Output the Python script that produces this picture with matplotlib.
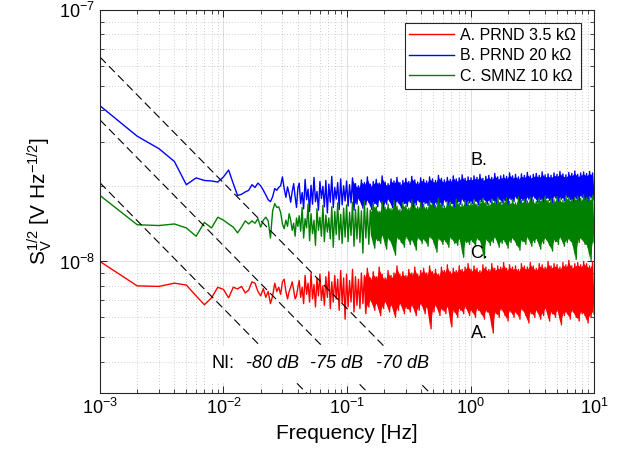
import numpy as np
import matplotlib
matplotlib.use('Agg')
import matplotlib.pyplot as plt
from matplotlib.patches import Rectangle

# ---------------- data (values in nV/sqrt(Hz)) ----------------
# low-frequency bins, f = 1 mHz ... 40 mHz in 1 mHz steps
red_low = [10.0, 8.0, 7.96, 8.2, 8.06, 7.3, 6.73, 7.17, 7.9, 7.74,
           7.17, 7.9, 7.78, 7.96, 7.5, 7.7, 8.3, 8.2, 7.6, 7.3,
           7.8, 7.2, 7.6, 6.8, 7.3, 8.2, 7.6, 7.9, 7.4, 8.3,
           8.5, 7.6, 7.1, 7.6, 7.9, 8.3, 7.7, 7.1, 7.3, 7.9]
blue_low = [41.6, 31.5, 28.1, 25.0, 20.2, 21.5, 21.0, 20.9, 20.7, 21.7,
            23.1, 20.4, 18.3, 18.5, 18.9, 19.2, 20.2, 19.7, 20.5, 20.0,
            19.2, 18.4, 17.6, 17.3, 18.1, 19.5, 19.2, 19.7, 20.0, 21.7,
            19.5, 18.0, 19.8, 18.6, 17.2, 19.0, 20.4, 18.1, 16.4, 19.6]
green_low = [18.3, 14.0, 13.9, 14.1, 13.6, 12.6, 14.3, 13.6, 15.0, 14.6,
             14.1, 13.7, 13.0, 13.7, 14.5, 14.1, 14.5, 14.2, 14.8, 13.7,
             14.6, 15.0, 14.5, 12.4, 15.9, 17.0, 16.4, 16.5, 15.7, 14.1,
             13.5, 14.6, 13.8, 15.5, 14.6, 13.3, 14.2, 12.6, 14.9, 13.8]

# dense part 41 mHz ... 10 Hz : upper and lower excursions of the noise band
blue_hi = [20.5, 18.8, 21.2, 19.4, 20.1, 21.6, 19.0, 20.8, 19.9, 21.0, 20.3, 21.8, 19.7, 20.6, 21.3, 20.0,
           20.9, 20.2, 21.5, 20.4, 20.0, 21.1, 20.6, 21.7, 20.3, 20.8, 21.2, 20.5, 21.9, 20.7, 20.4, 21.3,
           20.9, 21.6, 20.6, 21.0, 21.4, 20.8, 21.8, 21.1, 20.7, 21.5, 21.2, 20.9, 21.7, 21.3, 21.0, 22.0,
           21.4, 21.1, 21.6, 21.2, 21.9, 21.3, 21.5, 22.1, 21.4, 21.7,
           21.5, 21.9, 21.6, 22.2, 21.4, 21.8, 22.0, 21.6, 22.4, 21.7, 21.9, 22.1, 21.8, 22.5, 21.9, 22.2,
           21.7, 22.3, 22.0, 22.6, 21.9, 22.2, 22.4, 22.0, 22.7, 22.1, 22.3, 22.0, 22.5, 22.2, 22.8, 22.3,
           22.1, 22.6, 22.4, 22.9, 22.2, 22.5, 22.7, 22.4, 22.8, 22.5]
blue_lo = [17.0, 16.2, 17.6, 15.8, 16.9, 17.3, 16.0, 17.8, 16.5, 15.6, 17.2, 16.4, 17.7, 16.1, 16.8, 17.4,
           16.6, 17.1, 16.0, 16.9, 17.5, 16.3, 16.8, 17.2, 16.1, 17.0, 16.5, 17.3, 16.2, 16.9, 17.4, 16.4,
           16.7, 17.1, 16.3, 17.0, 16.6, 17.2, 16.4, 16.8, 17.3, 16.5, 17.0, 16.7, 17.2, 16.4, 16.9, 17.1,
           16.6, 17.3, 16.8, 17.0, 16.5, 17.2, 16.9, 17.4, 16.7, 17.1,
           17.0, 17.4, 16.8, 17.3, 17.6, 16.9, 17.2, 17.5, 17.0, 17.7, 17.1, 17.4, 16.9, 17.6, 17.3, 17.8,
           17.1, 17.5, 17.2, 17.7, 17.4, 17.9, 17.2, 17.6, 17.3, 17.8, 17.5, 17.2, 17.9, 17.4, 17.7, 17.5,
           18.0, 17.6, 17.3, 17.8, 17.5, 18.0, 17.7, 17.4, 17.9, 17.6]
green_hi = [15.2, 16.4, 14.8, 16.9, 15.5, 14.6, 16.2, 15.0, 16.7, 15.3, 14.9, 16.5, 15.8, 17.1, 15.4, 16.3,
            16.8, 15.7, 17.2, 16.1, 16.6, 15.9, 17.4, 16.3, 16.0, 17.0, 16.5, 15.8, 17.3, 16.4, 16.9, 16.2,
            17.5, 16.6, 16.1, 17.1, 16.7, 16.3, 17.6, 16.8, 16.5, 17.2, 16.9, 16.4, 17.4, 17.0, 16.7, 17.8,
            16.9, 16.6, 17.3, 17.1, 16.8, 17.7, 17.0, 16.9, 17.5, 17.2,
            17.1, 17.6, 16.9, 17.4, 17.8, 17.2, 17.0, 17.7, 17.3, 18.0, 17.2, 17.5, 17.9, 17.3, 17.6, 17.1,
            18.1, 17.5, 17.7, 17.4, 18.0, 17.6, 17.3, 17.9, 17.7, 18.2, 17.5, 17.8, 17.6, 18.1, 17.8, 17.5,
            18.3, 17.9, 17.7, 18.0, 18.2, 17.8, 18.4, 18.0, 17.9, 18.3]
green_lo = [13.2, 12.4, 13.6, 12.1, 12.9, 11.6, 13.3, 12.6, 12.0, 13.1, 12.3, 11.4, 12.8, 12.2, 11.8, 12.5,
            12.0, 12.7, 11.5, 12.3, 11.9, 10.8, 12.4, 11.7, 12.6, 11.3, 12.1, 11.8, 12.5, 11.2, 12.2, 11.6,
            10.6, 12.3, 11.9, 11.4, 12.4, 11.7, 12.0, 11.1, 12.3, 11.8, 12.1, 11.5, 12.4, 11.9, 10.9, 12.2,
            11.7, 12.0, 11.4, 12.3, 11.8, 11.6, 12.1, 10.4, 11.9, 11.7,
            12.0, 11.5, 12.2, 11.8, 10.3, 12.1, 11.6, 11.9, 12.3, 11.4, 11.8, 12.0, 11.3, 11.9, 12.2, 11.6,
            11.1, 12.0, 11.7, 12.3, 11.5, 11.9, 12.1, 11.2, 11.8, 12.2, 11.6, 11.0, 12.0, 11.7, 12.3, 11.5,
            11.9, 12.1, 11.6, 10.2, 11.9, 12.2, 11.7, 11.4, 10.1, 11.9]
red_hi = [8.4, 7.9, 8.8, 8.2, 9.0, 8.1, 8.6, 8.9, 8.0, 8.7, 9.1, 8.3, 8.8, 8.5, 9.2, 8.6,
          8.9, 8.4, 9.3, 8.7, 8.5, 9.0, 8.8, 9.4, 8.6, 9.1, 8.7, 9.5, 8.9, 8.6, 9.2, 8.8,
          9.0, 9.6, 8.9, 9.1, 8.8, 9.3, 9.0, 9.5, 8.9, 9.2, 9.4, 9.0, 9.6, 9.1, 9.3, 8.9,
          9.5, 9.2, 9.7, 9.1, 9.4, 9.2, 9.6, 9.3, 9.5, 9.8,
          9.3, 9.6, 9.4, 9.2, 9.7, 9.5, 9.3, 9.8, 9.4, 9.6, 9.5, 9.9, 9.4, 9.7, 9.5, 9.6,
          9.3, 9.8, 9.6, 9.5, 9.9, 9.6, 9.4, 9.8, 9.7, 9.5, 10.0, 9.6, 9.8, 9.7, 9.5, 9.9,
          9.7, 10.1, 9.6, 9.8, 9.9, 9.7, 10.0, 9.8, 9.6, 10.0]
red_lo = [7.2, 6.8, 7.4, 6.9, 7.1, 6.6, 7.3, 7.0, 6.7, 7.2, 6.5, 6.9, 7.1, 6.4, 6.8, 5.9,
          6.6, 6.9, 6.3, 6.7, 6.5, 6.8, 6.2, 6.6, 6.9, 6.4, 6.7, 6.1, 6.5, 6.8, 6.3, 6.6,
          6.0, 6.4, 6.7, 6.2, 6.5, 6.3, 6.6, 6.1, 6.4, 6.7, 6.2, 6.5, 5.4, 6.3, 6.6, 6.1,
          6.4, 6.2, 6.5, 5.5, 6.3, 6.0, 6.4, 6.2, 6.5, 6.1,
          6.3, 6.0, 6.4, 6.2, 5.9, 6.3, 6.1, 5.2, 6.2, 6.0, 6.4, 6.1, 5.8, 6.3, 6.0, 6.2,
          5.9, 6.4, 6.1, 5.7, 6.2, 6.0, 6.3, 5.9, 6.1, 6.4, 5.8, 6.2, 6.0, 6.3, 5.6, 6.1,
          6.2, 5.9, 6.3, 6.0, 5.8, 6.2, 6.1, 5.7, 6.0, 6.2]

ni_levels = [-80, -75, -70]   # dB
ni_ref = 6.5e-6               # amplitude of the 1/f reference lines

labels = ['A. PRND 3.5 kΩ', 'B. PRND 20 kΩ', 'C. SMNZ 10 kΩ']
colors = ['#ff0000', '#0000ff', '#008000']
fill_from = [22, 18, 24]      # pair index where the band becomes solid


def build(low, hi, lo):
    n = min(len(hi), len(lo))
    f_low = np.arange(1, len(low) + 1) * 1e-3
    f_hi = np.geomspace(0.041, 10, 2 * n)
    band = np.column_stack([hi[:n], lo[:n]]).ravel()
    f = np.concatenate([f_low, f_hi])
    s = np.concatenate([low, band]) * 1e-9
    env = (f_hi[0::2], np.array(lo[:n]) * 1e-9, np.array(hi[:n]) * 1e-9)
    return f, s, env


series = [build(red_low, red_hi, red_lo),
          build(blue_low, blue_hi, blue_lo),
          build(green_low, green_hi, green_lo)]

# ---------------- plot ----------------
plt.rcParams['font.family'] = ['Liberation Sans', 'DejaVu Sans']
plt.rcParams['mathtext.fontset'] = 'custom'
plt.rcParams['mathtext.rm'] = 'Liberation Sans'
plt.rcParams['mathtext.it'] = 'Liberation Sans:italic'
plt.rcParams['mathtext.bf'] = 'Liberation Sans:bold'

fig = plt.figure(figsize=(6.18, 4.59), dpi=100)
ax = fig.add_axes([0.1618, 0.1438, 0.7994, 0.8344])

for (f, s, env), lab, c, k0 in zip(series, labels, colors, fill_from):
    ax.loglog(f, s, color=c, lw=1.0, label=lab)
    fe, lo_e, hi_e = env
    # thousands of FFT bins per pixel column make the band look solid
    ax.fill_between(fe[k0:], lo_e[k0:] * 1.02, hi_e[k0:] * 0.98, color=c, lw=0)

fl = np.array([1e-3, 10])
for ni in ni_levels:
    ln, = ax.loglog(fl, ni_ref * 10 ** (ni / 20) / np.sqrt(fl), color='k', lw=0.8)
    ln.set_dashes((7.5, 4))

ax.set_xlim(1e-3, 10)
ax.set_ylim(3e-9, 1e-7)

# white patch behind the NI annotation
ax.add_patch(Rectangle((7.08e-3, 3.30e-9), 0.566 - 7.08e-3, 4.62e-9 - 3.30e-9,
                       facecolor='white', edgecolor='none', zorder=5))
ax.text(8.07e-3, 3.93e-9, 'NI:', fontsize=13, va='center', zorder=6)
for xpos, ni in zip([0.01521, 0.0502, 0.1717], ni_levels):
    ax.text(xpos, 3.93e-9, '%d dB' % ni, fontsize=13, style='italic', va='center', zorder=6)

ax.text(1.0, 2.52e-8, 'B.', fontsize=13, va='center', zorder=6)
ax.text(1.0, 1.08e-8, 'C.', fontsize=13, va='center', zorder=6)
ax.text(1.0, 5.16e-9, 'A.', fontsize=13, va='center', zorder=6)

ax.grid(True, which='major', color='#dedede', lw=0.7, ls='-')
ax.grid(True, which='minor', color='#bdbdbd', lw=0.6, ls=(0, (1, 2.5)))
ax.set_axisbelow(True)
ax.tick_params(which='both', direction='in', top=True, right=True, colors='#262626',
               labelcolor='black')
ax.tick_params(which='major', length=5, labelsize=13, width=0.7)
ax.tick_params(which='minor', length=3, width=0.6)
for sp in ax.spines.values():
    sp.set_color('#262626')
    sp.set_linewidth(0.8)

ax.set_xlabel('Frequency [Hz]', fontsize=15)
ax.set_ylabel(r'$\mathrm{S}_\mathrm{V}^{\mathit{1/2}}$ [V Hz$^{\mathrm{-1/2}}$]', fontsize=15)

leg = ax.legend(loc='upper right', fontsize=11.5, fancybox=False, framealpha=1,
                edgecolor='#262626', handlelength=2.8, handletextpad=0.4,
                borderaxespad=0.8, labelspacing=0.35, borderpad=0.3)
leg.get_frame().set_linewidth(0.8)

fig.savefig('out.png', dpi=100)
